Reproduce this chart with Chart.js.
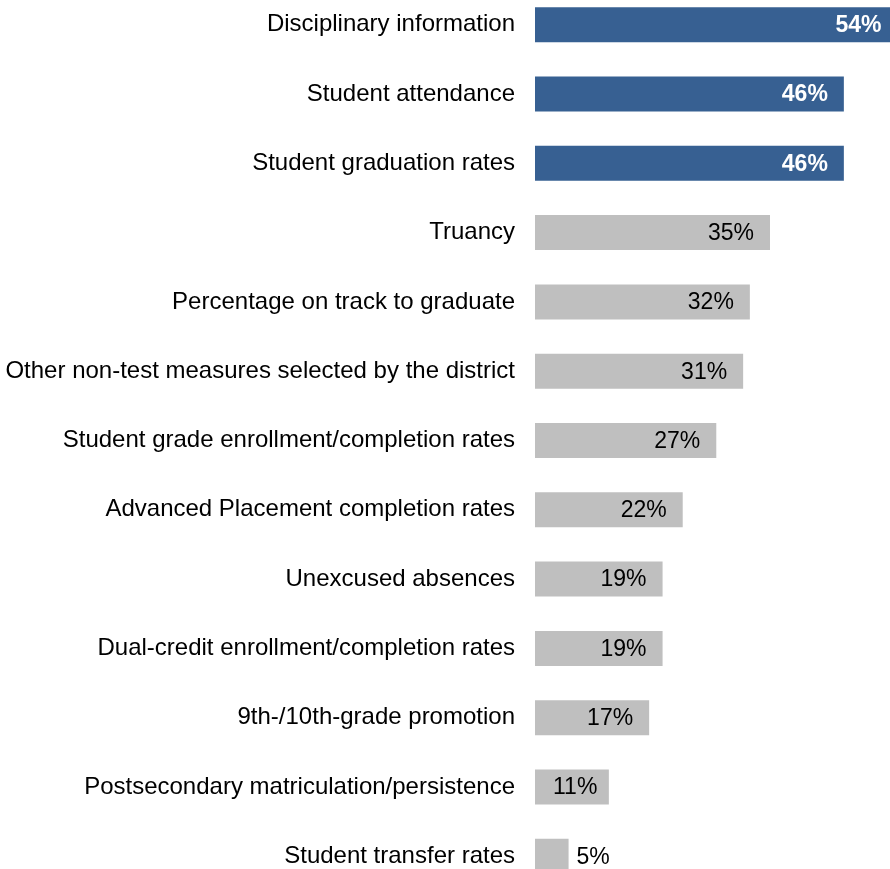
<!DOCTYPE html>
<html>
<head>
<meta charset="utf-8">
<script src="https://cdn.jsdelivr.net/npm/chart.js@4"></script>
<style>
    html, body { margin: 0; padding: 0; background: #fff; overflow: hidden; width: 890px; height: 869px; }
    #wrap { position: absolute; left: 0; top: -10px; width: 911px; height: 901px; }
</style>
</head>
<body>
<div id="wrap"><canvas id="chart"></canvas></div>
<script>
// ================== Data ==================
const categories = [
    "Disciplinary information",
    "Student attendance",
    "Student graduation rates",
    "Truancy",
    "Percentage on track to graduate",
    "Other non-test measures selected by the district",
    "Student grade enrollment/completion rates",
    "Advanced Placement completion rates",
    "Unexcused absences",
    "Dual-credit enrollment/completion rates",
    "9th-/10th-grade promotion",
    "Postsecondary matriculation/persistence",
    "Student transfer rates"
];
const percents = [54, 46, 46, 35, 32, 31, 27, 22, 19, 19, 17, 11, 5];
const highlighted = 3; // first three bars in blue

const BLUE = '#376092';
const GRAY = '#bfbfbf';
const FONT = 'Arial, "Liberation Sans", sans-serif';

// ================== Value labels ==================
const valueLabels = {
    id: 'valueLabels',
    afterDatasetsDraw(chart) {
        const ctx = chart.ctx;
        const meta = chart.getDatasetMeta(0);
        ctx.save();
        ctx.textBaseline = 'middle';
        meta.data.forEach((bar, i) => {
            const text = percents[i] + '%';
            const strong = i < highlighted;
            ctx.font = (strong ? 'bold ' : '') + '23px ' + FONT;
            ctx.fillStyle = strong ? '#ffffff' : '#000000';
            const w = ctx.measureText(text).width;
            const start = bar.base, end = bar.x;
            let left;
            if (end - start < w + 20) {
                left = end + 8;              // too narrow: put it outside
            } else {
                left = Math.max(end - 16 - w, start + 18);
            }
            ctx.textAlign = 'left';
            ctx.fillText(text, left, bar.y + 1);
        });
        ctx.restore();
    }
};

// ================== Chart ==================
new Chart(document.getElementById('chart'), {
    type: 'bar',
    data: {
        labels: categories,
        datasets: [{
            data: percents,
            backgroundColor: percents.map((_, i) => i < highlighted ? BLUE : GRAY),
            borderWidth: 0,
            barPercentage: 0.505,
            categoryPercentage: 1
        }]
    },
    options: {
        indexAxis: 'y',
        responsive: true,
        maintainAspectRatio: false,
        animation: false,
        layout: { padding: 0 },
        plugins: {
            legend: { display: false },
            tooltip: { enabled: false }
        },
        scales: {
            x: {
                display: false,
                min: 0,
                max: 56
            },
            y: {
                grid: { display: false, drawTicks: false },
                border: { display: false },
                ticks: {
                    color: '#000',
                    padding: 20,
                    font: { family: FONT, size: 24 }
                },
                afterFit(scale) {
                    scale.width = 535;
                    // no extra room above/below for the tick labels
                    scale.paddingTop = 0;
                    scale.paddingBottom = 0;
                }
            }
        }
    },
    plugins: [valueLabels]
});
</script>
</body>
</html>
